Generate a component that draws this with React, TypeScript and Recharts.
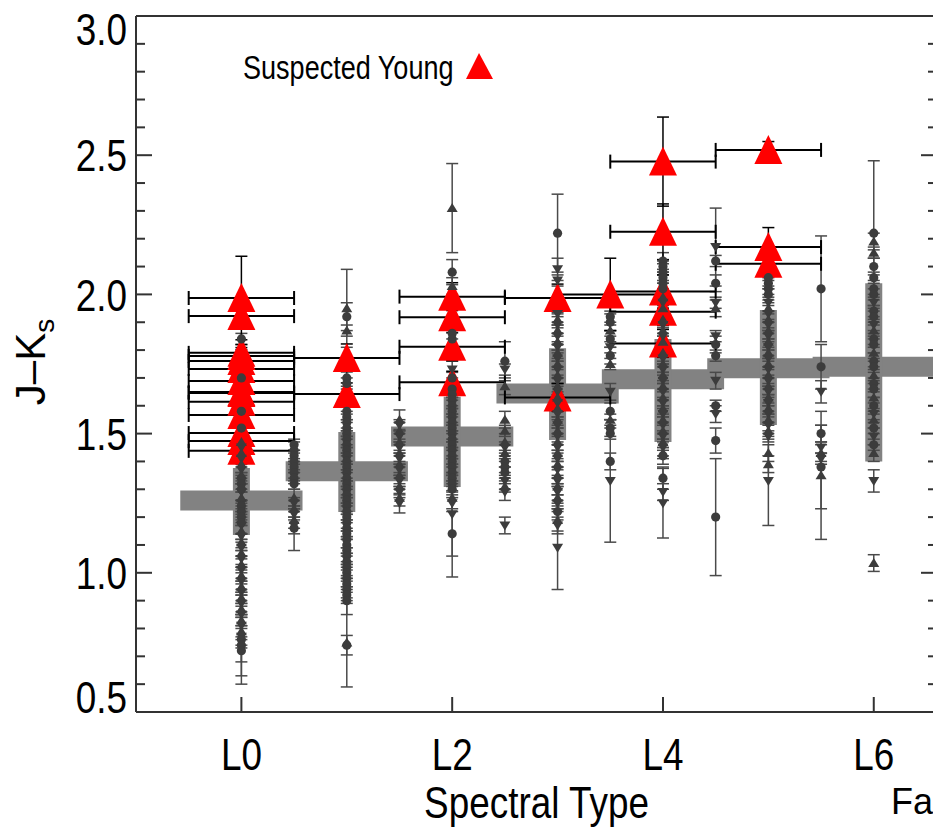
import React from "react";
import { ScatterChart, Scatter, XAxis, YAxis, ErrorBar, Legend, Label } from "recharts";

type Pt = [number, number]; // [J-Ks, sigma]

const spectralTicks = [0, 2, 4, 6];
const colorTicks = [0.5, 1.0, 1.5, 2.0, 2.5, 3.0];
const colorMinorTicks = [
  0.6, 0.7, 0.8, 0.9, 1.1, 1.2, 1.3, 1.4, 1.6, 1.7, 1.8, 1.9, 2.1, 2.2, 2.3, 2.4, 2.6, 2.7, 2.8, 2.9,
];

// field dwarfs, one list per spectral subtype
const fieldL0: Pt[] = [
  [1.84, 0.02], [1.7, 0.03], [1.58, 0.03], [1.52, 0.03], [1.47, 0.03], [1.45, 0.04], [1.43, 0.03],
  [1.41, 0.02], [1.39, 0.03], [1.37, 0.04], [1.35, 0.03], [1.34, 0.02], [1.32, 0.03], [1.3, 0.04],
  [1.29, 0.03], [1.27, 0.03], [1.25, 0.04], [1.24, 0.02], [1.22, 0.03], [1.2, 0.03], [1.18, 0.04],
  [1.17, 0.03], [1.15, 0.03], [1.13, 0.04], [1.11, 0.03], [1.09, 0.03], [1.07, 0.04], [1.05, 0.03],
  [1.03, 0.03], [1.01, 0.04], [0.99, 0.03], [0.97, 0.04], [0.95, 0.03], [0.93, 0.04], [0.91, 0.03],
  [0.89, 0.04], [0.87, 0.03], [0.85, 0.04], [0.83, 0.03], [0.81, 0.04], [0.79, 0.05], [0.77, 0.04],
  [0.76, 0.16], [0.74, 0.11], [0.72, 0.04],
];
const fieldL05: Pt[] = [
  [1.46, 0.02], [1.44, 0.03], [1.42, 0.02], [1.4, 0.03], [1.38, 0.02], [1.36, 0.03], [1.34, 0.02],
  [1.32, 0.02], [1.27, 0.03], [1.25, 0.02], [1.23, 0.03], [1.21, 0.02], [1.19, 0.03], [1.17, 0.03],
  [1.16, 0.08],
];
const fieldL1: Pt[] = [
  [1.95, 0.14], [1.92, 0.05], [1.87, 0.02], [1.7, 0.03], [1.68, 0.02], [1.58, 0.03], [1.56, 0.02],
  [1.54, 0.03], [1.52, 0.03], [1.5, 0.02], [1.48, 0.03], [1.46, 0.03], [1.44, 0.02], [1.42, 0.03],
  [1.4, 0.03], [1.38, 0.02], [1.36, 0.03], [1.34, 0.03], [1.32, 0.02], [1.3, 0.03], [1.28, 0.03],
  [1.26, 0.02], [1.24, 0.03], [1.22, 0.03], [1.2, 0.02], [1.18, 0.03], [1.16, 0.03], [1.14, 0.02],
  [1.12, 0.03], [1.1, 0.03], [1.08, 0.04], [1.06, 0.03], [1.04, 0.03], [1.02, 0.04], [1.0, 0.03],
  [0.98, 0.04], [0.96, 0.03], [0.94, 0.04], [0.92, 0.03], [0.9, 0.05], [0.75, 0.16], [0.74, 0.035],
];
const fieldL15: Pt[] = [
  [1.55, 0.035], [1.53, 0.02], [1.51, 0.03], [1.49, 0.02], [1.47, 0.03], [1.45, 0.02], [1.43, 0.03],
  [1.41, 0.02], [1.39, 0.03], [1.37, 0.02], [1.35, 0.03], [1.33, 0.02], [1.31, 0.03], [1.29, 0.02],
  [1.27, 0.03], [1.25, 0.035],
];
const fieldL2: Pt[] = [
  [2.31, 0.16], [2.08, 0.045], [2.03, 0.03], [1.86, 0.02], [1.84, 0.03], [1.73, 0.03], [1.7, 0.02],
  [1.66, 0.03], [1.64, 0.02], [1.62, 0.03], [1.6, 0.03], [1.58, 0.02], [1.56, 0.03], [1.54, 0.03],
  [1.52, 0.02], [1.5, 0.03], [1.48, 0.03], [1.46, 0.02], [1.44, 0.03], [1.42, 0.03], [1.4, 0.02],
  [1.38, 0.03], [1.36, 0.03], [1.34, 0.02], [1.32, 0.03], [1.3, 0.03], [1.27, 0.04], [1.25, 0.03],
  [1.21, 0.15], [1.14, 0.155],
];
const fieldL25: Pt[] = [
  [1.76, 0.07], [1.73, 0.02], [1.67, 0.03], [1.55, 0.03], [1.51, 0.02], [1.47, 0.03], [1.45, 0.02],
  [1.43, 0.03], [1.4, 0.02], [1.38, 0.03], [1.36, 0.02], [1.33, 0.03], [1.31, 0.02], [1.29, 0.03],
  [1.17, 0.03],
];
const fieldL3: Pt[] = [
  [2.22, 0.14], [2.09, 0.04], [2.05, 0.02], [1.93, 0.03], [1.91, 0.02], [1.89, 0.03], [1.87, 0.02],
  [1.85, 0.03], [1.83, 0.03], [1.81, 0.02], [1.79, 0.03], [1.77, 0.03], [1.75, 0.02], [1.73, 0.03],
  [1.71, 0.03], [1.69, 0.02], [1.67, 0.03], [1.65, 0.03], [1.63, 0.02], [1.61, 0.03], [1.59, 0.03],
  [1.57, 0.02], [1.55, 0.03], [1.53, 0.03], [1.51, 0.02], [1.49, 0.03], [1.47, 0.03], [1.45, 0.02],
  [1.43, 0.03], [1.41, 0.03], [1.39, 0.02], [1.37, 0.03], [1.35, 0.03], [1.33, 0.02], [1.31, 0.03],
  [1.29, 0.03], [1.27, 0.04], [1.25, 0.03], [1.22, 0.03], [1.19, 0.04], [1.17, 0.03], [1.09, 0.15],
];
const fieldL35: Pt[] = [
  [1.92, 0.02], [1.9, 0.03], [1.87, 0.02], [1.84, 0.03], [1.81, 0.02], [1.78, 0.03], [1.75, 0.02],
  [1.65, 0.03], [1.58, 0.03], [1.55, 0.02], [1.52, 0.03], [1.5, 0.02], [1.4, 0.03], [1.33, 0.22],
];
const fieldL4: Pt[] = [
  [2.12, 0.03], [2.1, 0.02], [2.08, 0.03], [2.06, 0.02], [2.04, 0.03], [2.02, 0.02], [1.99, 0.03],
  [1.97, 0.02], [1.95, 0.03], [1.91, 0.02], [1.89, 0.03], [1.87, 0.02], [1.85, 0.03], [1.83, 0.02],
  [1.79, 0.03], [1.77, 0.02], [1.75, 0.03], [1.73, 0.02], [1.71, 0.03], [1.69, 0.03], [1.67, 0.02],
  [1.65, 0.03], [1.63, 0.03], [1.61, 0.02], [1.59, 0.03], [1.57, 0.03], [1.55, 0.02], [1.53, 0.03],
  [1.51, 0.03], [1.49, 0.02], [1.47, 0.03], [1.45, 0.03], [1.43, 0.02], [1.42, 0.03], [1.34, 0.04],
  [1.29, 0.03], [1.25, 0.125],
];
const fieldL45: Pt[] = [
  [2.17, 0.14], [2.12, 0.02], [2.04, 0.03], [1.97, 0.02], [1.95, 0.03], [1.85, 0.02], [1.82, 0.03],
  [1.78, 0.02], [1.69, 0.03], [1.6, 0.02], [1.57, 0.03], [1.475, 0.045], [1.2, 0.21],
];
const fieldL5: Pt[] = [
  [2.06, 0.03], [2.04, 0.02], [2.02, 0.03], [2.0, 0.02], [1.97, 0.03], [1.95, 0.02], [1.93, 0.03],
  [1.91, 0.03], [1.89, 0.02], [1.87, 0.03], [1.85, 0.02], [1.83, 0.03], [1.81, 0.03], [1.79, 0.02],
  [1.77, 0.03], [1.75, 0.02], [1.73, 0.03], [1.71, 0.03], [1.69, 0.02], [1.67, 0.03], [1.65, 0.02],
  [1.63, 0.03], [1.61, 0.03], [1.59, 0.02], [1.57, 0.03], [1.55, 0.02], [1.53, 0.03], [1.51, 0.03],
  [1.49, 0.02], [1.43, 0.03], [1.39, 0.03], [1.33, 0.16],
];
const fieldL55: Pt[] = [
  [2.02, 0.19], [1.74, 0.08], [1.65, 0.04], [1.5, 0.03], [1.45, 0.02], [1.43, 0.03], [1.41, 0.02],
  [1.38, 0.15], [1.35, 0.23],
];
const fieldL6: Pt[] = [
  [2.22, 0.26], [2.19, 0.03], [2.15, 0.02], [2.1, 0.03], [2.06, 0.02], [2.02, 0.03], [2.0, 0.02],
  [1.97, 0.03], [1.94, 0.02], [1.92, 0.03], [1.89, 0.02], [1.87, 0.03], [1.84, 0.02], [1.82, 0.03],
  [1.79, 0.02], [1.76, 0.03], [1.74, 0.02], [1.71, 0.03], [1.68, 0.02], [1.66, 0.03], [1.63, 0.02],
  [1.6, 0.03], [1.57, 0.02], [1.55, 0.03], [1.52, 0.02], [1.49, 0.03], [1.46, 0.02], [1.43, 0.03],
  [1.33, 0.04], [1.035, 0.03],
];

// suspected young objects
const youngL0: Pt[] = [
  [1.987, 0.15], [1.922, 0.04], [1.79, 0.03], [1.779, 0.03], [1.761, 0.04], [1.732, 0.03],
  [1.689, 0.03], [1.649, 0.04], [1.646, 0.03], [1.614, 0.03], [1.567, 0.04], [1.502, 0.03],
  [1.473, 0.03], [1.438, 0.04],
];
const youngL1: Pt[] = [[1.772, 0.05], [1.642, 0.04]];
const youngL2: Pt[] = [[1.992, 0.05], [1.918, 0.04], [1.812, 0.05], [1.684, 0.04]];
const youngL3: Pt[] = [[1.987, 0.05], [1.63, 0.05]];
const youngL35: Pt[] = [[2.0, 0.13]];
const youngL4: Pt[] = [[2.477, 0.16], [2.225, 0.1], [2.01, 0.06], [1.938, 0.05], [1.824, 0.05]];
const youngL5: Pt[] = [[2.519, 0.03], [2.17, 0.07], [2.11, 0.04]];
const youngSptErr = 0.5;

// median colour and spread per integer subtype
const binTypes = [0, 1, 2, 3, 4, 5, 6];
const medianColor = [1.26, 1.365, 1.49, 1.644, 1.695, 1.735, 1.74];
const spreadLow = [1.136, 1.218, 1.308, 1.477, 1.47, 1.531, 1.4];
const spreadHigh = [1.376, 1.506, 1.632, 1.807, 1.84, 1.944, 2.04];
const binHalfWidth = 0.58;

const toRows = (spt: number, pts: Pt[]) => pts.map(([jk, err]) => ({ spt, jk, err }));

const fieldRows = [
  ...toRows(0, fieldL0), ...toRows(0.5, fieldL05), ...toRows(1, fieldL1), ...toRows(1.5, fieldL15),
  ...toRows(2, fieldL2), ...toRows(2.5, fieldL25), ...toRows(3, fieldL3), ...toRows(3.5, fieldL35),
  ...toRows(4, fieldL4), ...toRows(4.5, fieldL45), ...toRows(5, fieldL5), ...toRows(5.5, fieldL55),
  ...toRows(6, fieldL6),
];
const youngRows = [
  ...toRows(0, youngL0), ...toRows(1, youngL1), ...toRows(2, youngL2), ...toRows(3, youngL3),
  ...toRows(3.5, youngL35), ...toRows(4, youngL4), ...toRows(5, youngL5),
].map((r) => ({ ...r, sptErr: youngSptErr }));
const binRows = binTypes.map((spt, i) => ({
  spt,
  jk: medianColor[i],
  half: binHalfWidth,
  spread: [medianColor[i] - spreadLow[i], spreadHigh[i] - medianColor[i]],
}));

const allColorTicks = [...colorTicks, ...colorMinorTicks].sort((a, b) => a - b);

const SANS = "'Liberation Sans', Arial, sans-serif";
const AXIS = "#333333";
const TICK_GAP = 9;
const X_GAP = 26;
const SQUEEZE = 0.82; // the original lettering is a narrow Helvetica

// horizontally condensed text
const NarrowText = ({ x, y, anchor = "start", size, dy, children }: any) => (
  <text
    transform={`translate(${x} ${y}) scale(${SQUEEZE} 1)`}
    dy={dy}
    textAnchor={anchor}
    fontFamily={SANS}
    fontSize={size}
    fill="#000"
  >
    {children}
  </text>
);

const LeftTick = (p: any) => {
  const v = p.payload.value;
  const ax = p.x + TICK_GAP;
  const major = colorTicks.includes(v);
  const shift = v === 3 ? 13 : v === 0.5 ? -15 : 0;
  return (
    <g>
      <line x1={ax} x2={ax + (major ? 16 : 9)} y1={p.y} y2={p.y} stroke={AXIS} strokeWidth={2} />
      {major && (
        <NarrowText x={p.x} y={p.y + shift} dy="0.36em" anchor="end" size={45}>
          {v.toFixed(1)}
        </NarrowText>
      )}
    </g>
  );
};

const RightTick = (p: any) => {
  const major = colorTicks.includes(p.payload.value);
  return <line x1={p.x} x2={p.x - (major ? 16 : 9)} y1={p.y} y2={p.y} stroke={AXIS} strokeWidth={2} />;
};

const BottomTick = (p: any) => {
  const ay = p.y - X_GAP;
  return (
    <g>
      <line x1={p.x} x2={p.x} y1={ay} y2={ay - 15} stroke={AXIS} strokeWidth={2} />
      <NarrowText x={p.x} y={p.y} dy="0.72em" anchor="middle" size={45}>
        {`L${p.payload.value}`}
      </NarrowText>
    </g>
  );
};

const TopTick = (p: any) => <line x1={p.x} x2={p.x} y1={p.y} y2={p.y + 15} stroke={AXIS} strokeWidth={2} />;

const FieldMarker = (p: any) => {
  const { cx, cy, payload } = p;
  const k = Math.round(payload.jk * 100) % 4;
  if (k === 1)
    return <polygon points={`${cx - 5.5},${cy - 4} ${cx + 5.5},${cy - 4} ${cx},${cy + 5}`} fill="#3c3c3c" />;
  if (k === 3)
    return <polygon points={`${cx},${cy - 5} ${cx - 5.5},${cy + 4} ${cx + 5.5},${cy + 4}`} fill="#3c3c3c" />;
  return <circle cx={cx} cy={cy} r={4.6} fill="#3c3c3c" />;
};

const YoungMarker = (p: any) => (
  <polygon points={`${p.cx},${p.cy - 15} ${p.cx - 14},${p.cy + 14} ${p.cx + 14},${p.cy + 14}`} fill="#ff0000" />
);

const Nothing = () => <g />;

const XLabel = (p: any) => {
  const vb = p.viewBox;
  return (
    <NarrowText x={vb.x + vb.width / 2} y={vb.y + vb.height - 11} anchor="middle" size={45}>
      Spectral Type
    </NarrowText>
  );
};

const YLabel = (p: any) => {
  const vb = p.viewBox;
  const x = vb.x + 45;
  const y = vb.y + vb.height / 2 - 2;
  return (
    <text x={x} y={y} transform={`rotate(-90 ${x} ${y})`} textAnchor="middle" fontFamily={SANS} fontSize={42} fill="#000">
      J–K<tspan fontSize={28} dy={9}>s</tspan>
    </text>
  );
};

const LegendBox = () => (
  <svg width={270} height={40}>
    <NarrowText x={3} y={31} size={33}>
      Suspected Young
    </NarrowText>
    <polygon points="239,5 226,31 253,31" fill="#ff0000" />
  </svg>
);

export default function App() {
  return (
    <div style={{ position: "absolute", left: 0, top: 0, width: 933, height: 829, overflow: "hidden", background: "#fff" }}>
      <ScatterChart width={945} height={829} margin={{ top: 0, right: 0, bottom: 0, left: 0 }}>
        <XAxis
          xAxisId="top"
          orientation="top"
          type="number"
          domain={[-1, 6.6]}
          ticks={spectralTicks}
          interval={0}
          height={16}
          tickSize={0}
          tickMargin={0}
          tickLine={false}
          axisLine={{ stroke: AXIS, strokeWidth: 2 }}
          tick={TopTick}
          allowDataOverflow
        />
        <XAxis
          type="number"
          dataKey="spt"
          domain={[-1, 6.6]}
          ticks={spectralTicks}
          interval={0}
          height={117}
          tickSize={0}
          tickMargin={X_GAP}
          tickLine={false}
          axisLine={{ stroke: AXIS, strokeWidth: 2 }}
          tick={BottomTick}
          allowDataOverflow
        >
          <Label content={XLabel} />
        </XAxis>
        <YAxis
          type="number"
          dataKey="jk"
          domain={[0.5, 3]}
          ticks={allColorTicks}
          interval={0}
          width={136}
          tickSize={0}
          tickMargin={TICK_GAP}
          tickLine={false}
          axisLine={{ stroke: AXIS, strokeWidth: 2 }}
          tick={LeftTick}
          allowDataOverflow
        >
          <Label content={YLabel} />
        </YAxis>
        <YAxis
          yAxisId="right"
          orientation="right"
          type="number"
          domain={[0.5, 3]}
          ticks={allColorTicks}
          interval={0}
          width={8}
          tickSize={0}
          tickMargin={0}
          tickLine={false}
          axisLine={{ stroke: AXIS, strokeWidth: 2 }}
          tick={RightTick}
          allowDataOverflow
        />
        <Legend
          layout="vertical"
          verticalAlign="middle"
          align="center"
          wrapperStyle={{ left: 240, top: 48, width: 270 }}
          content={LegendBox}
        />

        <Scatter name="bins" data={binRows} shape={Nothing} isAnimationActive={false} legendType="none">
          <ErrorBar dataKey="half" direction="x" width={0} stroke="#828282" strokeWidth={20} />
          <ErrorBar dataKey="spread" direction="y" width={0} stroke="#828282" strokeWidth={17} />
        </Scatter>
        <Scatter name="young" data={youngRows} shape={YoungMarker} isAnimationActive={false} />
        <Scatter name="field" data={fieldRows} shape={FieldMarker} isAnimationActive={false}>
          <ErrorBar dataKey="err" direction="y" width={6} stroke="#4a4a4a" strokeWidth={1.5} />
        </Scatter>
        <Scatter name="youngBars" data={youngRows} shape={Nothing} isAnimationActive={false} legendType="none">
          <ErrorBar dataKey="sptErr" direction="x" width={7} stroke="#000" strokeWidth={2} />
          <ErrorBar dataKey="err" direction="y" width={6} stroke="#000" strokeWidth={1.5} />
        </Scatter>
      </ScatterChart>
      <div style={{ position: "absolute", left: 891, top: 784, fontFamily: SANS, fontSize: 36, lineHeight: "36px", color: "#000" }}>
        Fa
      </div>
    </div>
  );
}
